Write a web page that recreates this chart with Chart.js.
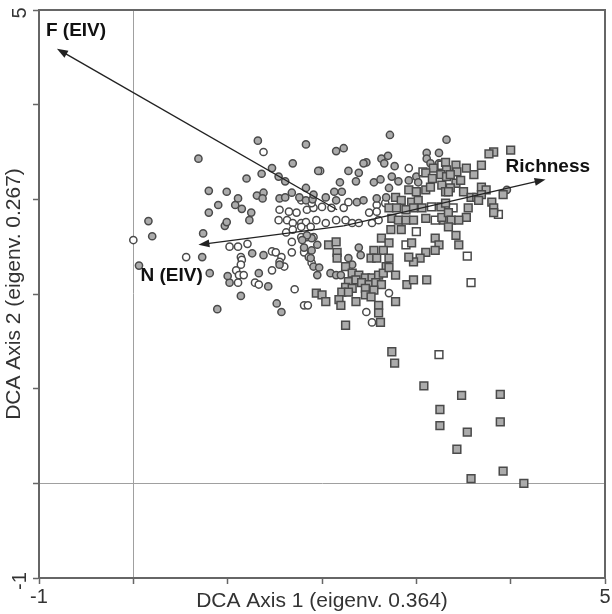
<!DOCTYPE html>
<html><head><meta charset="utf-8">
<script src="https://cdn.jsdelivr.net/npm/chart.js@4"></script>
<style>html,body{margin:0;padding:0;background:#fff}#wrap{width:612px;height:614px;position:relative}</style>
</head><body><div id="wrap"><canvas id="c" width="612" height="614"></canvas></div>
<script>
const xTitle = 'DCA Axis 1 (eigenv. 0.364)';
const yTitle = 'DCA Axis 2 (eigenv. 0.267)';
const axisMin = -1, axisMax = 5;
const tickLabels = [-1, 5];

const grayCircles = [
[1.32,3.62],[1.83,3.58],[0.69,3.43],[1.69,3.38],[1.47,3.33],[1.20,3.22],[1.36,3.27],[1.54,3.24],[1.61,3.19],[1.96,3.30],
[0.80,3.09],[0.99,3.08],[1.31,3.04],[1.38,3.07],[1.37,3.01],[1.11,3.01],[1.55,3.01],[1.61,3.02],[1.68,3.07],[1.76,3.02],
[1.83,2.99],[1.90,3.00],[0.90,2.94],[1.08,2.94],[1.15,2.90],[1.25,2.86],[1.23,2.78],[0.80,2.86],[0.16,2.77],[0.20,2.61],
[0.06,2.30],[0.74,2.64],[0.89,1.84],[1.14,1.98],[1.52,1.90],[1.57,1.81],[0.97,2.72],[0.99,2.76],[0.81,2.22],[1.02,2.12],
[1.00,2.19],[0.73,2.39],[1.26,2.43],[1.38,2.41],[1.33,2.22],[1.43,2.08],[1.55,2.31],
[2.72,3.68],[2.15,3.51],[2.23,3.54],[3.32,3.63],[2.28,3.30],[2.36,3.19],[2.39,3.28],[2.47,3.39],[2.44,3.38],
[2.19,3.18],[2.55,3.18],[2.62,3.21],[2.63,3.43],[2.70,3.46],[2.66,3.38],[2.77,3.35],[2.71,3.12],[2.74,3.24],[2.81,3.19],
[2.92,3.20],[3.00,3.24],[3.02,3.18],[3.11,3.49],[3.24,3.49],[3.11,3.43],[3.15,3.38],[3.24,3.38],[1.83,3.12],[1.91,3.05],
[2.04,3.02],[2.13,3.08],[2.21,3.08],[2.15,2.99],[2.37,2.97],[2.44,2.99],[2.58,3.01],[2.68,3.02],
[2.39,2.49],[2.41,2.41],[2.28,2.38],[2.32,2.31],[1.89,2.59],[1.84,2.62],[1.79,2.57],[1.81,2.49],[1.89,2.46],[1.95,2.52],
[1.88,2.38],[1.91,2.29],[1.97,2.28],[1.95,2.20],[2.09,2.22],[2.15,2.20],[2.20,2.20],[3.96,3.10]
];

const whiteCircles = [
[1.38,3.50],[0.00,2.57],[1.55,2.89],[1.65,2.87],[1.73,2.86],[1.84,2.89],[1.91,2.91],[1.54,2.78],[1.63,2.78],[1.69,2.75],
[1.78,2.75],[1.83,2.76],[1.94,2.78],[1.62,2.65],[1.69,2.68],[1.78,2.71],[1.88,2.71],[1.78,2.60],[1.84,2.60],[1.91,2.60],
[1.68,2.55],[1.02,2.50],[1.11,2.50],[1.21,2.53],[1.47,2.45],[1.51,2.44],[1.57,2.39],[1.68,2.44],[1.81,2.44],[1.86,2.39],
[1.89,2.33],[1.14,2.39],[1.15,2.36],[0.56,2.39],[1.14,2.31],[1.09,2.25],[1.12,2.20],[1.17,2.20],[1.47,2.25],[1.60,2.29],
[1.55,2.34],[1.29,2.12],[1.33,2.10],[1.11,2.12],[1.71,2.05],[1.81,1.88],[1.85,1.88],
[1.98,3.30],[2.92,3.33],[1.78,2.99],[1.89,2.96],[2.00,2.92],[2.10,2.91],[2.23,2.91],[2.28,2.97],[2.58,2.94],[2.67,2.96],
[2.50,2.86],[2.58,2.87],[2.04,2.75],[2.15,2.78],[2.25,2.78],[2.32,2.75],[2.39,2.75],[2.53,2.75],[2.60,2.78],
[2.47,1.81],[2.53,1.70],[2.71,2.01]
];

const graySquares = [
[1.94,2.01],[3.18,3.33],[3.31,3.39],[3.32,3.31],[3.10,3.28],[3.17,3.22],[3.26,3.26],[3.32,3.24],[2.78,3.02],[2.84,2.99],
[2.95,2.97],[3.02,2.99],[2.92,3.10],[3.00,3.08],[3.10,3.10],[3.15,3.13],[3.27,3.15],[3.31,3.08],[2.71,2.91],[2.79,2.91],
[2.89,2.89],[2.97,2.91],[3.06,2.91],[3.26,2.92],[3.31,2.96],[2.74,2.80],[2.81,2.78],[2.89,2.78],[2.97,2.78],[3.10,2.80],
[3.29,2.78],
[2.84,2.68],[2.73,2.68],[2.63,2.59],[2.71,2.54],[2.65,2.46],[3.20,2.59],[3.24,2.52],[3.20,2.46],[2.95,2.54],[3.10,2.44],
[3.04,2.38],[2.97,2.34],[2.92,2.39],[2.55,2.46],[2.52,2.38],[2.58,2.38],[2.71,2.38],[2.68,2.29],[2.16,2.44],[2.16,2.38],
[2.25,2.29],[2.07,2.52],[2.15,2.55],[2.32,2.22],[2.39,2.20],[2.46,2.17],[2.53,2.17],[2.60,2.20],[2.65,2.22],[2.71,2.28],
[2.78,2.20],[2.28,2.13],[2.36,2.15],[2.42,2.12],[2.50,2.10],[2.57,2.12],[2.63,2.10],[2.25,2.07],[2.32,2.06],[2.46,2.06],
[2.55,2.04],[2.21,2.02],[2.28,2.02],[2.46,1.99],[2.52,1.97],[2.18,1.94],[2.20,1.88],[2.36,1.92],[2.00,1.99],[2.04,1.92],
[2.25,1.67],[2.60,1.88],[2.60,1.80],[2.62,1.70],[2.78,1.92],[2.90,2.10],[2.97,2.15],[3.11,2.15],
[3.82,3.50],[3.77,3.48],[4.00,3.52],[3.69,3.36],[3.61,3.26],[3.53,3.33],[3.42,3.36],[3.43,3.29],[3.36,3.26],[3.42,3.17],
[3.47,3.20],[3.36,3.12],[3.34,3.08],[3.50,3.08],[3.58,3.02],[3.64,3.02],[3.69,3.13],[3.74,3.10],[3.69,3.05],[3.66,2.99],
[3.80,2.97],[3.82,2.91],[3.82,2.86],[3.92,3.05],[3.55,2.91],[3.53,2.81],[3.27,2.81],[3.34,2.86],[3.37,2.78],[3.45,2.78],
[3.34,2.71],[3.42,2.62],[3.45,2.52],
[2.74,1.39],[2.77,1.27],[3.08,1.03],[3.48,0.93],[3.89,0.94],[3.25,0.78],[3.25,0.61],[3.54,0.54],[3.89,0.65],[3.43,0.36],
[3.92,0.13],[3.58,0.05],[4.14,0.00]
];

const whiteSquares = [
[3.24,1.36],[3.54,2.40],[3.58,2.12],[3.16,2.92],[3.20,2.78],[3.00,2.66],[2.89,2.52],[3.27,3.36],[3.39,2.91],[3.87,2.84],[3.07,3.29]
];

const arrowNames = ['F (EIV)', 'N (EIV)', 'Richness'];
const arrowFrom = [[2.16,2.89],[2.23,2.72],[2.23,2.72]];
const arrowTo = [[-0.81,4.59],[0.69,2.52],[4.37,3.21]];

const FONT = '"Liberation Sans", Arial, Helvetica, sans-serif';
const labelOffsets = [[-11,-18],[-58,31],[-40,-13]];

const toXY = arr => arr.map(p => ({x: p[0], y: p[1]}));

const decor = {
  id: 'decor',
  afterDraw(chart) {
    const {ctx, chartArea: a, scales} = chart;
    const sx = scales.x, sy = scales.y;
    ctx.save();
    ctx.strokeStyle = '#666'; ctx.lineWidth = 2;
    ctx.strokeRect(a.left, a.top, a.right - a.left, a.bottom - a.top);
    ctx.fillStyle = '#333';
    ctx.font = '20px ' + FONT;
    ctx.textAlign = 'center'; ctx.textBaseline = 'middle';
    tickLabels.forEach(v => ctx.fillText(String(v), sx.getPixelForValue(v), a.bottom + 19));
    tickLabels.forEach(v => {
      ctx.save();
      ctx.translate(20, sy.getPixelForValue(v) + 3);
      ctx.rotate(-Math.PI / 2);
      ctx.fillText(String(v), 0, 0);
      ctx.restore();
    });
    arrowNames.forEach((name, i) => {
      const x0 = sx.getPixelForValue(arrowFrom[i][0]), y0 = sy.getPixelForValue(arrowFrom[i][1]);
      const x1 = sx.getPixelForValue(arrowTo[i][0]), y1 = sy.getPixelForValue(arrowTo[i][1]);
      const ang = Math.atan2(y1 - y0, x1 - x0);
      const hl = 11, hw = 4;
      const c = Math.cos(ang), s = Math.sin(ang);
      ctx.strokeStyle = '#222'; ctx.lineWidth = 1.4;
      ctx.beginPath(); ctx.moveTo(x0, y0); ctx.lineTo(x1 - hl * 0.8 * c, y1 - hl * 0.8 * s); ctx.stroke();
      ctx.fillStyle = '#222';
      ctx.beginPath(); ctx.moveTo(x1, y1);
      ctx.lineTo(x1 - hl * c + hw * s, y1 - hl * s - hw * c);
      ctx.lineTo(x1 - hl * c - hw * s, y1 - hl * s + hw * c);
      ctx.closePath(); ctx.fill();
      ctx.fillStyle = '#111';
      ctx.font = 'bold 19px ' + FONT;
      ctx.textAlign = 'left'; ctx.textBaseline = 'middle';
      ctx.fillText(name, x1 + labelOffsets[i][0], y1 + labelOffsets[i][1]);
    });
    ctx.restore();
  }
};

const pointBase = {borderColor: '#4a4a4a', borderWidth: 1.5, pointHoverRadius: 4};

new Chart(document.getElementById('c'), {
  type: 'scatter',
  data: {
    datasets: [
      Object.assign({label: 'gray squares', data: toXY(graySquares), pointStyle: 'rect', radius: 5.5, backgroundColor: '#ababab'}, pointBase),
      Object.assign({label: 'white squares', data: toXY(whiteSquares), pointStyle: 'rect', radius: 5.5, backgroundColor: '#ffffff'}, pointBase),
      Object.assign({label: 'gray circles', data: toXY(grayCircles), pointStyle: 'circle', radius: 3.6, backgroundColor: '#ababab'}, pointBase),
      Object.assign({label: 'white circles', data: toXY(whiteCircles), pointStyle: 'circle', radius: 3.6, backgroundColor: '#ffffff'}, pointBase)
    ]
  },
  options: {
    responsive: false, animation: false, devicePixelRatio: 1,
    layout: {padding: {top: 10, right: 5, left: 0, bottom: 0}},
    plugins: {legend: {display: false}, tooltip: {enabled: false}},
    scales: {
      x: {
        type: 'linear', min: axisMin, max: axisMax,
        ticks: {stepSize: 1, display: false},
        grid: {color: c => (c.tick && c.tick.value === 0) ? '#a0a0a0' : 'rgba(0,0,0,0)', lineWidth: 1, drawTicks: true, tickLength: 6, tickColor: '#666', tickWidth: 1.5},
        border: {display: true, color: '#666', width: 2},
        title: {display: true, text: xTitle, color: '#333', font: {family: FONT, size: 21}, padding: {top: 0, bottom: 0}},
        afterFit: s => { s.height = 36; }
      },
      y: {
        type: 'linear', min: axisMin, max: axisMax,
        ticks: {stepSize: 1, display: false},
        grid: {color: c => (c.tick && c.tick.value === 0) ? '#a0a0a0' : 'rgba(0,0,0,0)', lineWidth: 1, drawTicks: true, tickLength: 6, tickColor: '#666', tickWidth: 1.5},
        border: {display: true, color: '#666', width: 2},
        title: {display: true, text: yTitle, color: '#333', font: {family: FONT, size: 21}, padding: {top: 2, bottom: 0}},
        afterFit: s => { s.width = 39; }
      }
    }
  },
  plugins: [decor]
});
</script>
</body></html>
